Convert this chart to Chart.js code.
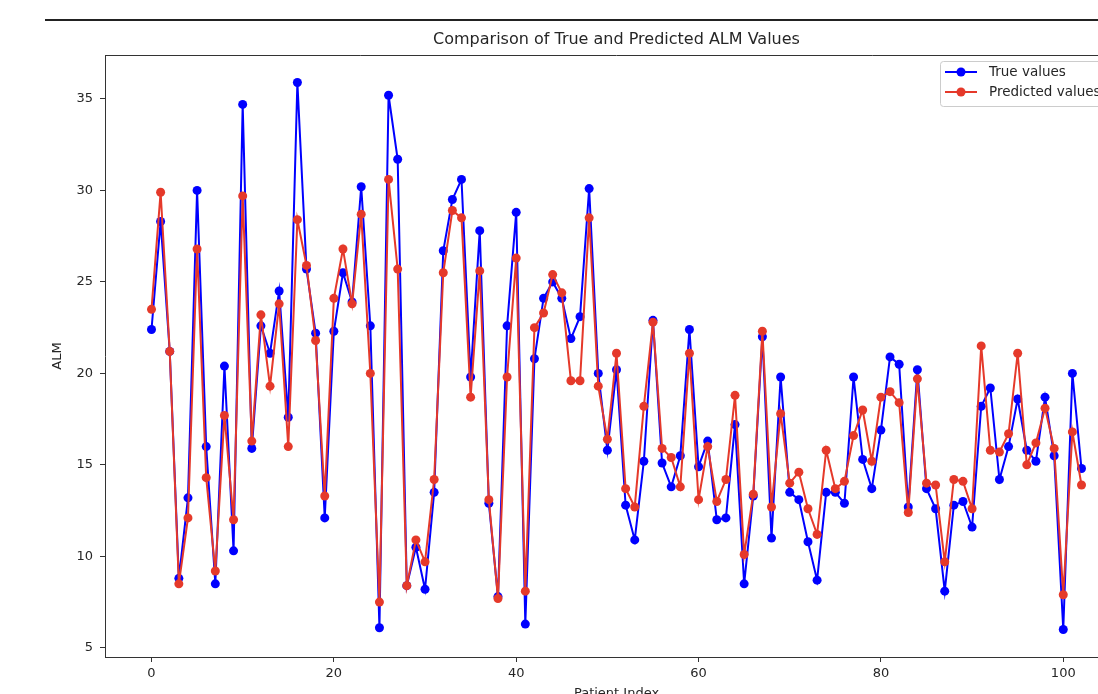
<!DOCTYPE html>
<html>
<head>
<meta charset="utf-8">
<script src="https://cdn.jsdelivr.net/npm/chart.js@4.4.1/dist/chart.umd.min.js"></script>
<style>
  html, body { margin: 0; padding: 0; overflow: hidden; background: #fff; }
  #wrap { width: 1300px; height: 710px; position: absolute; left: 0; top: 0; }
  canvas { display: block; width: 1300px; height: 710px; }
</style>
</head>
<body>
<div id="wrap"><canvas id="c" width="1300" height="710"></canvas></div>
<script>
const titleText = 'Comparison of True and Predicted ALM Values';
const xTitle = 'Patient Index';
const yTitle = 'ALM';
const seriesNames = ['True values', 'Predicted values'];
const xTickValues = [0, 20, 40, 60, 80, 100];
const yTickValues = [5, 10, 15, 20, 25, 30, 35];

const trueValues = [
  22.4, 28.3, 21.2, 8.8, 13.2, 30.0, 16.0, 8.5, 20.4, 10.3,
  34.7, 15.9, 22.6, 21.1, 24.5, 17.6, 35.9, 25.7, 22.2, 12.1,
  22.3, 25.5, 23.9, 30.2, 22.6, 6.1, 35.2, 31.7, 8.4, 10.5,
  8.2, 13.5, 26.7, 29.5, 30.6, 19.8, 27.8, 12.9, 7.8, 22.6,
  28.8, 6.3, 20.8, 24.1, 25.0, 24.1, 21.9, 23.1, 30.1, 20.0,
  15.8, 20.2, 12.8, 10.9, 15.2, 22.9, 15.1, 13.8, 15.5, 22.4,
  14.9, 16.3, 12.0, 12.1, 17.2, 8.5, 13.3, 22.0, 11.0, 19.8,
  13.5, 13.1, 10.8, 8.7, 13.5, 13.5, 12.9, 19.8, 15.3, 13.7,
  16.9, 20.9, 20.5, 12.7, 20.2, 13.7, 12.6, 8.1, 12.8, 13.0,
  11.6, 18.2, 19.2, 14.2, 16.0, 18.6, 15.8, 15.2, 18.7, 15.5,
  6.0, 20.0, 14.8
];
const predictedValues = [
  23.5, 29.9, 21.2, 8.5, 12.1, 26.8, 14.3, 9.2, 17.7, 12.0,
  29.7, 16.3, 23.2, 19.3, 23.8, 16.0, 28.4, 25.9, 21.8, 13.3,
  24.1, 26.8, 23.8, 28.7, 20.0, 7.5, 30.6, 25.7, 8.4, 10.9,
  9.7, 14.2, 25.5, 28.9, 28.5, 18.7, 25.6, 13.1, 7.7, 19.8,
  26.3, 8.1, 22.5, 23.3, 25.4, 24.4, 19.6, 19.6, 28.5, 19.3,
  16.4, 21.1, 13.7, 12.7, 18.2, 22.8, 15.9, 15.4, 13.8, 21.1,
  13.1, 16.0, 13.0, 14.2, 18.8, 10.1, 13.4, 22.3, 12.7, 17.8,
  14.0, 14.6, 12.6, 11.2, 15.8, 13.7, 14.1, 16.6, 18.0, 15.2,
  18.7, 19.0, 18.4, 12.4, 19.7, 14.0, 13.9, 9.7, 14.2, 14.1,
  12.6, 21.5, 15.8, 15.7, 16.7, 21.1, 15.0, 16.2, 18.1, 15.9,
  7.9, 16.8, 13.9
];

const BLUE = '#0000ff';
const RED = '#e5392a';
const FONT = "'DejaVu Sans', sans-serif";
const TEXT = '#262626';

const toPoints = arr => arr.map((v, i) => ({ x: i, y: v }));

const framePlugin = {
  id: 'frame',
  beforeDraw(chart) {
    const ctx = chart.ctx;
    ctx.save();
    ctx.fillStyle = '#ffffff';
    ctx.fillRect(0, 0, chart.width, chart.height);
    ctx.fillStyle = '#222';
    ctx.fillRect(45, 19, chart.width - 45, 2);
    ctx.restore();
  },
  afterDraw(chart) {
    const ctx = chart.ctx;
    const a = chart.chartArea;
    ctx.save();
    ctx.fillStyle = TEXT;
    ctx.font = "16px " + FONT;
    ctx.textAlign = 'center';
    ctx.textBaseline = 'middle';
    ctx.fillText(titleText, (a.left + a.right) / 2, 40);
    ctx.strokeStyle = '#333';
    ctx.lineWidth = 1;
    ctx.beginPath();
    ctx.moveTo(Math.round(a.left), Math.round(a.top) + 0.5);
    ctx.lineTo(Math.round(a.right), Math.round(a.top) + 0.5);
    ctx.stroke();
    const lx = 940, ly = 61, lw = 200, lh = 45;
    ctx.fillStyle = 'rgba(255,255,255,0.85)';
    ctx.strokeStyle = '#cccccc';
    ctx.lineWidth = 1;
    ctx.beginPath();
    if (ctx.roundRect) ctx.roundRect(lx + 0.5, ly + 0.5, lw, lh, 3);
    else ctx.rect(lx + 0.5, ly + 0.5, lw, lh);
    ctx.fill();
    ctx.stroke();
    chart.data.datasets.forEach((ds, i) => {
      const y = 72 + i * 20;
      ctx.strokeStyle = ds.borderColor;
      ctx.lineWidth = 2;
      ctx.beginPath();
      ctx.moveTo(945, y);
      ctx.lineTo(977, y);
      ctx.stroke();
      ctx.fillStyle = ds.pointBackgroundColor;
      ctx.beginPath();
      ctx.arc(961, y, 4.5, 0, Math.PI * 2);
      ctx.fill();
      ctx.fillStyle = TEXT;
      ctx.font = "13.5px " + FONT;
      ctx.textBaseline = 'middle';
      ctx.textAlign = 'left';
      ctx.fillText(ds.label, 989, y);
    });
    ctx.restore();
  }
};

new Chart(document.getElementById('c'), {
  type: 'line',
  data: {
    datasets: [
      {
        label: seriesNames[0],
        data: toPoints(trueValues),
        borderColor: BLUE,
        backgroundColor: BLUE,
        pointBackgroundColor: BLUE,
        pointBorderColor: BLUE,
        borderWidth: 2,
        pointRadius: 4.5,
        pointBorderWidth: 0,
        tension: 0,
        order: 2
      },
      {
        label: seriesNames[1],
        data: toPoints(predictedValues),
        borderColor: RED,
        backgroundColor: RED,
        pointBackgroundColor: RED,
        pointBorderColor: RED,
        borderWidth: 2,
        pointRadius: 4.5,
        pointBorderWidth: 0,
        tension: 0,
        order: 1
      }
    ]
  },
  options: {
    responsive: false,
    animation: false,
    devicePixelRatio: 1,
    layout: { padding: { top: 55, right: 172, bottom: 0, left: 0 } },
    plugins: {
      legend: { display: false },
      tooltip: { enabled: false },
      title: { display: false }
    },
    scales: {
      x: {
        type: 'linear',
        min: -5.1,
        max: 107.1,
        afterFit(scale) { scale.height = 53; },
        afterBuildTicks(scale) { scale.ticks = xTickValues.map(v => ({ value: v })); },
        grid: { display: true, drawOnChartArea: false, drawTicks: true, tickLength: 5, color: '#333' },
        border: { display: true, color: '#333' },
        ticks: { color: TEXT, padding: 4, font: { family: FONT, size: 13 }, maxRotation: 0 },
        title: { display: true, text: xTitle, color: TEXT, font: { family: FONT, size: 13 }, padding: { top: 4, bottom: 9 } }
      },
      y: {
        type: 'linear',
        min: 4.5,
        max: 37.4,
        afterFit(scale) { scale.width = 105; },
        afterBuildTicks(scale) { scale.ticks = yTickValues.map(v => ({ value: v })); },
        grid: { display: true, drawOnChartArea: false, drawTicks: true, tickLength: 5, color: '#333' },
        border: { display: true, color: '#333' },
        ticks: { color: TEXT, padding: 7, font: { family: FONT, size: 13 } },
        title: { display: true, text: yTitle, color: TEXT, font: { family: FONT, size: 13 }, padding: { top: 50, bottom: 4 } }
      }
    }
  },
  plugins: [framePlugin]
});
</script>
</body>
</html>
